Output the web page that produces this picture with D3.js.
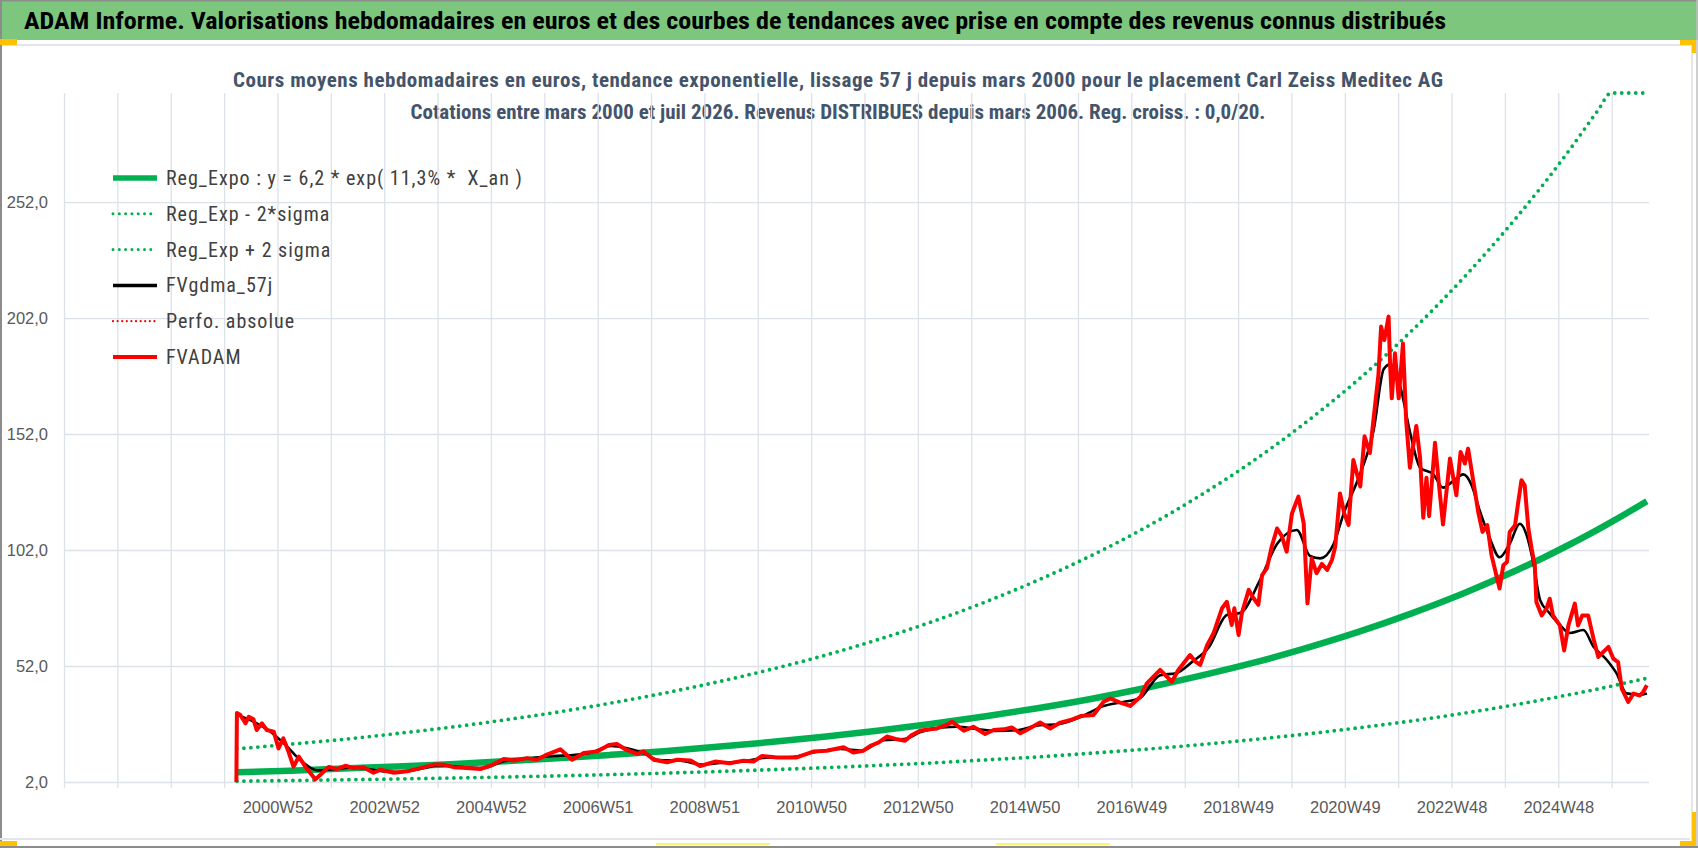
<!DOCTYPE html>
<html>
<head>
<meta charset="utf-8">
<script src="https://d3js.org/d3.v7.min.js"></script>
<style>
  body { margin: 0; background: #fff; }
  svg { display: block; font-family: "Liberation Sans Narrow", "Roboto Condensed", Roboto, sans-serif; }
  .grid line { stroke: #dde1e8; stroke-width: 1.3; }
  .grid path { display: none; }
  .tick text { fill: #595959; font-size: 16.5px; }
</style>
</head>
<body>
<script>
// ---- data ----
const redYears = [2000.18,2000.19,2000.25,2000.35,2000.41,2000.50,2000.56,2000.66,2000.75,2000.88,2000.97,2001.06,2001.16,2001.25,2001.35,2001.50,2001.66,2001.75,2001.91,2002.06,2002.22,2002.38,2002.56,2002.75,2002.88,2003.13,2003.38,2003.63,2003.88,2004.06,2004.25,2004.50,2004.75,2004.94,2005.19,2005.38,2005.63,2005.81,2006.00,2006.25,2006.47,2006.69,2006.94,2007.16,2007.31,2007.47,2007.69,2007.81,2008.00,2008.25,2008.44,2008.69,2008.87,2009.15,2009.43,2009.68,2009.87,2010.03,2010.31,2010.68,2010.99,2011.24,2011.56,2011.74,2011.93,2012.06,2012.21,2012.37,2012.56,2012.71,2012.84,2012.99,2013.18,2013.31,2013.49,2013.59,2013.81,2013.99,2014.21,2014.37,2014.56,2014.71,2014.87,2014.99,2015.24,2015.43,2015.62,2015.81,2016.00,2016.24,2016.43,2016.56,2016.74,2016.93,2017.12,2017.24,2017.49,2017.71,2017.83,2018.05,2018.15,2018.24,2018.37,2018.49,2018.65,2018.74,2018.83,2018.88,2018.96,2019.02,2019.15,2019.24,2019.33,2019.40,2019.49,2019.58,2019.68,2019.77,2019.86,2019.96,2020.08,2020.18,2020.25,2020.33,2020.42,2020.52,2020.62,2020.71,2020.77,2020.86,2020.94,2021.02,2021.11,2021.24,2021.32,2021.42,2021.49,2021.58,2021.63,2021.69,2021.77,2021.80,2021.83,2021.89,2021.96,2022.04,2022.10,2022.17,2022.23,2022.29,2022.36,2022.42,2022.48,2022.53,2022.64,2022.72,2022.79,2022.92,2023.04,2023.12,2023.20,2023.26,2023.35,2023.45,2023.53,2023.62,2023.70,2023.79,2023.85,2023.92,2023.99,2024.04,2024.14,2024.20,2024.26,2024.32,2024.39,2024.45,2024.51,2024.54,2024.64,2024.73,2024.79,2024.85,2024.98,2025.06,2025.14,2025.26,2025.32,2025.40,2025.51,2025.61,2025.70,2025.79,2025.89,2025.98,2026.07,2026.14,2026.26,2026.36,2026.48,2026.54,2026.61];
const redValues = [0,31.7,31,27.3,30.1,29,24.4,27.3,24.4,23.7,16.5,20.8,14.9,8.6,12.9,7.7,3.2,5,8.5,7.6,9,8,8.4,6,7.3,6,6.6,8,9.5,9.5,8.4,8,7.6,9,11.9,11.3,12.3,11.6,13.8,16.1,11.6,14.5,15.2,18,18.4,16.1,14.1,15.2,11.6,10.5,11.6,11.3,8.9,10.8,10.1,11.2,10.8,13.2,12.6,12.6,15.1,15.5,17,14.7,15.5,17.6,19,21.6,20.4,19.8,22.3,24.1,24.7,25.1,26.6,28,24.1,25.8,22.7,24.4,24.7,25.5,23,24.4,27.6,25.1,27.6,28.7,30.4,30.9,36.6,38,36.2,34.8,38.7,44.5,50.3,45.2,50.3,56.7,53.9,52.5,61,66.1,76.9,79.7,69.7,76.9,65.4,74.7,84.8,81.2,78.4,91.2,94.1,103.4,111.3,108,101.3,117.8,125,113.5,79,98.4,92,96,93.4,97.8,103.4,126.4,117.8,112.8,140.8,129.4,151,143.8,158.8,177.5,198.3,192.5,202.6,181,167.4,186.8,167.4,191,157.7,137.5,146.8,155.5,141.8,115.9,133.2,116.6,148.2,128.9,113,141.4,125.6,144.3,139.3,145.7,132.8,118.4,109.8,112.7,99.7,91.1,85.4,95.4,96.9,109.8,112.7,122.7,132.1,129.9,111.2,102.6,95.4,79.6,73.8,76.7,81,73.8,69.5,58.7,69.5,78.9,69.5,73.8,73.8,63.8,55.9,58,60.2,55.2,53.7,42.2,36.5,40.1,39.3,40.8,43.7];

const blackYears = [2000.25,2000.5,2000.8,2001.1,2001.4,2001.7,2002.0,2002.4,2002.8,2003.2,2003.6,2004.0,2004.4,2004.8,2005.2,2005.6,2006.0,2006.4,2006.8,2007.2,2007.5,2007.8,2008.1,2008.5,2008.9,2009.3,2009.7,2010.1,2010.6,2011.0,2011.5,2011.9,2012.3,2012.7,2013.0,2013.4,2013.7,2014.0,2014.4,2014.8,2015.2,2015.6,2016.0,2016.4,2016.8,2017.1,2017.49,2017.8,2018.1,2018.4,2018.74,2019.0,2019.36,2019.68,2020.05,2020.30,2020.49,2020.74,2020.93,2021.24,2021.49,2021.68,2021.80,2021.99,2022.18,2022.36,2022.61,2022.79,2022.98,2023.17,2023.32,2023.48,2023.67,2023.85,2024.04,2024.23,2024.36,2024.48,2024.61,2024.79,2024.98,2025.17,2025.42,2025.61,2025.86,2026.04,2026.23,2026.48,2026.61];
const blackValues = [30.5,28,24,18,11,7,7.5,8.3,7,6.3,7.5,9.2,8.4,8,11,12,13,13.5,14.5,17.5,16.5,14.5,11.5,11.2,9.5,10.3,10.9,12.5,12.8,14.8,16.2,15.6,20,20.5,23.5,25.5,25.8,25,24,24.3,26.4,27,30,34.5,36.5,38,48,49,54,60,74,75,89,104.6,110.6,99.4,98.4,104.6,117.8,135,153.6,180,182,172.3,152,137.5,134.6,128.9,131.7,134.6,130.3,118.8,106.9,98.9,104.7,113.3,108.2,96.8,80.4,74.7,69.7,66.2,67.5,60.3,54.6,48.9,40.2,39.6,40.2];

const trendYears = [2000.19,2001.19,2002.19,2003.19,2004.19,2005.19,2006.19,2007.19,2008.19,2009.19,2010.19,2011.19,2012.19,2013.19,2014.19,2015.19,2016.19,2017.19,2018.19,2019.19,2020.19,2021.19,2022.19,2023.19,2024.19,2024.69,2025.19,2025.69,2025.94,2026.19,2026.61];
const trendValues = [6.2,6.9,7.8,8.7,9.7,10.9,12.2,13.7,15.3,17.2,19.2,21.5,24.1,27.0,30.2,33.8,37.8,42.4,47.5,53.1,59.5,66.6,74.6,83.5,93.5,98.9,104.7,110.8,114.0,117.3,123.0];
const lowValues = [2.36,2.64,2.95,3.31,3.70,4.15,4.64,5.20,5.82,6.52,7.30,8.17,9.15,10.2,11.5,12.8,14.4,16.1,18.0,20.2,22.6,25.3,28.3,31.7,35.5,37.6,39.8,42.1,43.3,44.6,46.7];
const highValues = [16.3,18.3,20.4,22.9,25.6,28.7,32.1,36.0,40.3,45.1,50.5,56.5,63.3,70.9,79.4,88.9,99.5,111.4,124.8,139.7,156.5,175.2,196.2,219.7,246.0,260.2,275.4,291.4,299.8,308.4,323.0];

const yTicks = [2, 52, 102, 152, 202, 252];
const xLabels = ["2000W52","2002W52","2004W52","2006W51","2008W51","2010W50","2012W50","2014W50","2016W49","2018W49","2020W49","2022W48","2024W48"];

const legendLabels = ["Reg_Expo : y = 6,2 * exp( 11,3% *  X_an )", "Reg_Exp - 2*sigma", "Reg_Exp + 2 sigma", "FVgdma_57j", "Perfo. absolue", "FVADAM"];

const titleText = "ADAM Informe. Valorisations hebdomadaires en euros et des courbes de tendances avec prise en compte des revenus connus distribués";
const subTitle1 = "Cours moyens hebdomadaires en euros, tendance exponentielle, lissage 57 j depuis mars 2000 pour le placement Carl Zeiss Meditec AG";
const subTitle2 = "Cotations entre mars 2000 et juil 2026. Revenus DISTRIBUES depuis mars 2006. Reg. croiss. : 0,0/20.";

// ---- layout ----
const W = 1698, H = 848;
const plot = {left: 64, right: 1649, top: 93, bottom: 782};
const xStart = 1996.95, xEnd = 2026.65;

const svg = d3.select("body").append("svg").attr("width", W).attr("height", H);

// frame / title band (excel screenshot look)
svg.append("rect").attr("x", 0).attr("y", 0).attr("width", W).attr("height", 40).attr("fill", "#7dc67e");
svg.append("line").attr("x1", 0).attr("x2", W).attr("y1", 0.75).attr("y2", 0.75).attr("stroke", "#8a8f8a").attr("stroke-width", 1.5);
svg.append("line").attr("x1", 0).attr("x2", 1690).attr("y1", 45).attr("y2", 45).attr("stroke", "#e3e5ea").attr("stroke-width", 2);
svg.append("line").attr("x1", 1).attr("x2", 1).attr("y1", 0).attr("y2", H).attr("stroke", "#8c8c8c").attr("stroke-width", 2);
svg.append("line").attr("x1", 1692).attr("x2", 1692).attr("y1", 45).attr("y2", 842).attr("stroke", "#e3e5ea").attr("stroke-width", 2);
svg.append("line").attr("x1", 1697).attr("x2", 1697).attr("y1", 0).attr("y2", H).attr("stroke", "#bfbfbf").attr("stroke-width", 1.5);
svg.append("line").attr("x1", 0).attr("x2", 1690).attr("y1", 839).attr("y2", 839).attr("stroke", "#e3e5ea").attr("stroke-width", 2);
svg.append("line").attr("x1", 0).attr("x2", W).attr("y1", 847).attr("y2", 847).attr("stroke", "#8c8c8c").attr("stroke-width", 2);
svg.append("rect").attr("x", 0).attr("y", 39).attr("width", 17).attr("height", 6).attr("fill", "#ffc000");
svg.append("rect").attr("x", 0).attr("y", 841).attr("width", 17).attr("height", 5).attr("fill", "#ffc000");
svg.append("rect").attr("x", 1680).attr("y", 40).attr("width", 16).attr("height", 5).attr("fill", "#ffc000");
svg.append("rect").attr("x", 1692).attr("y", 40).attr("width", 4).attr("height", 13).attr("fill", "#ffc000");
svg.append("rect").attr("x", 1680).attr("y", 841).attr("width", 16).attr("height", 5).attr("fill", "#ffc000");
svg.append("rect").attr("x", 1692).attr("y", 812).attr("width", 4).attr("height", 34).attr("fill", "#ffc000");
svg.append("rect").attr("x", 656).attr("y", 843).attr("width", 114).attr("height", 2).attr("fill", "#fff36a");
svg.append("rect").attr("x", 996).attr("y", 843).attr("width", 114).attr("height", 2).attr("fill", "#fff36a");

svg.append("text").attr("x", 24).attr("y", 29)
  .attr("textLength", 1422).attr("lengthAdjust", "spacingAndGlyphs")
  .style("font-size", "24px").style("font-weight", "bold").attr("fill", "#000")
  .text(titleText);

svg.append("text").attr("x", 838).attr("y", 87).attr("text-anchor", "middle")
  .attr("textLength", 1210).attr("lengthAdjust", "spacing")
  .style("font-size", "21px").style("font-weight", "bold").attr("fill", "#44546a")
  .text(subTitle1);
svg.append("text").attr("x", 838).attr("y", 119).attr("text-anchor", "middle")
  .style("font-size", "21px").style("font-weight", "bold").attr("fill", "#44546a")
  .text(subTitle2);

// ---- scales ----
const x = d3.scaleLinear().domain([xStart, xEnd]).range([plot.left, plot.right]);
const y = d3.scaleLinear().domain([2, 299]).range([plot.bottom, plot.top]).clamp(true);

const gridYears = d3.range(0, 30).map(k => xStart + k);
const labelYears = xLabels.map((d, i) => xStart + 4 + 2 * i);

// horizontal grid + y labels
svg.append("g").attr("class", "grid")
  .attr("transform", "translate(" + plot.left + ",0)")
  .call(d3.axisLeft(y).tickValues(yTicks).tickSize(-(plot.right - plot.left)).tickFormat(""));
svg.append("g").attr("class", "yl")
  .attr("transform", "translate(" + plot.left + ",0)")
  .call(d3.axisLeft(y).tickValues(yTicks).tickSize(0).tickPadding(16)
    .tickFormat(d => d3.format(".1f")(d).replace(".", ",")))
  .call(g => g.select(".domain").remove());

// vertical grid (with tick marks below axis)
svg.append("g").attr("class", "grid")
  .attr("transform", "translate(0," + (plot.bottom + 6) + ")")
  .call(d3.axisBottom(x).tickValues(gridYears).tickSize(-(plot.bottom + 6 - plot.top)).tickFormat(""));
svg.append("g").attr("class", "xl")
  .attr("transform", "translate(0," + plot.bottom + ")")
  .call(d3.axisBottom(x).tickValues(labelYears).tickSize(0).tickPadding(19)
    .tickFormat((d, i) => xLabels[i]))
  .call(g => g.select(".domain").remove());

// ---- series ----
const smooth = d3.line().x(d => x(d[0])).y(d => y(d[1])).curve(d3.curveMonotoneX);
const jag = d3.line().x(d => x(d[0])).y(d => y(d[1]));

const green = "#00b050";
const zip = (a, b) => a.map((v, i) => [v, b[i]]);

svg.append("path").datum(zip(trendYears, lowValues)).attr("d", smooth)
  .attr("fill", "none").attr("stroke", green).attr("stroke-width", 3.8)
  .attr("stroke-dasharray", "0 7").attr("stroke-linecap", "round");
svg.append("path").datum(zip(trendYears, highValues)).attr("d", smooth)
  .attr("fill", "none").attr("stroke", green).attr("stroke-width", 3.8)
  .attr("stroke-dasharray", "0 7").attr("stroke-linecap", "round");
svg.append("path").datum(zip(trendYears, trendValues)).attr("d", smooth)
  .attr("fill", "none").attr("stroke", green).attr("stroke-width", 6.5);
svg.append("path").datum(zip(blackYears, blackValues)).attr("d", smooth)
  .attr("fill", "none").attr("stroke", "#000").attr("stroke-width", 2.6);
svg.append("path").datum(zip(redYears, redValues)).attr("d", jag)
  .attr("fill", "none").attr("stroke", "#ff0000").attr("stroke-width", 4)
  .attr("stroke-linejoin", "round");

// ---- legend ----
const legendStyles = [
  {stroke: green, width: 5.5, dash: null},
  {stroke: green, width: 3, dash: "0 6.3"},
  {stroke: green, width: 3, dash: "0 6.3"},
  {stroke: "#000", width: 3.5, dash: null},
  {stroke: "#ff0000", width: 2.2, dash: "0 4.6"},
  {stroke: "#ff0000", width: 4, dash: null}
];
const lg = svg.append("g");
legendLabels.forEach((t, i) => {
  const cy = 178 + i * 35.8;
  const s = legendStyles[i];
  lg.append("line").attr("x1", 113).attr("x2", 157).attr("y1", cy).attr("y2", cy)
    .attr("stroke", s.stroke).attr("stroke-width", s.width)
    .attr("stroke-dasharray", s.dash).attr("stroke-linecap", s.dash ? "round" : "butt");
  lg.append("text").attr("x", 166).attr("y", cy).attr("dy", "0.35em")
    .style("font-size", "20px").style("letter-spacing", "1px").style("white-space", "pre")
    .attr("fill", "#404040").text(t);
});
</script>
</body>
</html>
